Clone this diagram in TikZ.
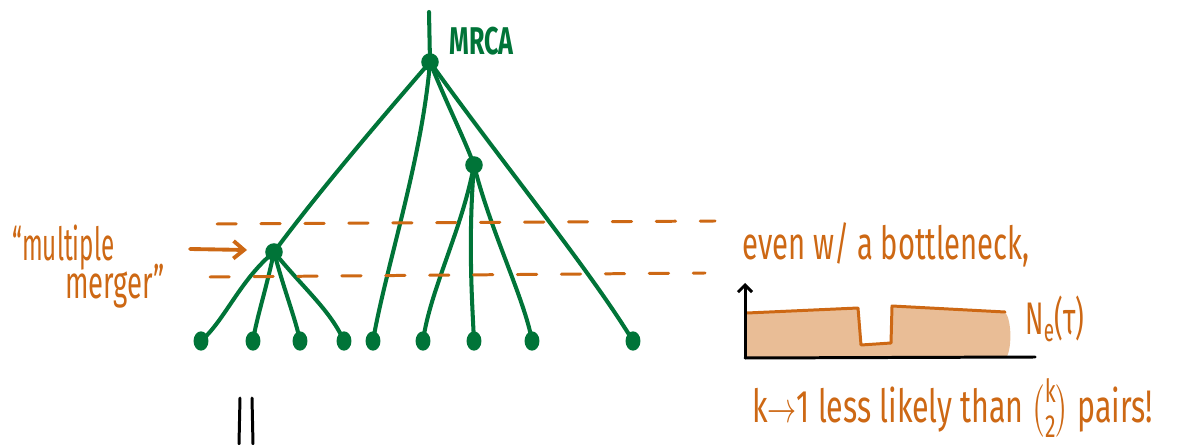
\documentclass[tikz,border=0pt]{standalone}
\usepackage{fontspec}
\usepackage{amsmath}
\setmainfont{Fira Sans}
\usetikzlibrary{arrows.meta,shapes.geometric}
\definecolor{treegreen}{RGB}{0,116,56}
\definecolor{ink}{RGB}{205,104,20}
\definecolor{sand}{RGB}{233,189,150}
\newcommand{\hw}[2]{\scalebox{#1}[1]{#2}}
\tikzset{
  branch/.style={draw=treegreen, line width=2.3pt, line cap=round, line join=round},
  leaf/.style={ellipse, fill=treegreen, minimum width=8.5pt, minimum height=11pt, inner sep=0pt},
  inner/.style={circle, fill=treegreen, minimum size=10pt, inner sep=0pt},
  level/.style={draw=ink, line width=1.7pt, dash pattern=on 11pt off 14pt, line cap=round},
  note/.style={text=ink, inner sep=0pt, font=\fontsize{26}{26}\selectfont},
  axis/.style={draw=black, line width=1.7pt, line cap=round}
}
\begin{document}
\begin{tikzpicture}[x=0.02cm, y=-0.02cm]
\useasboundingbox (0,0) rectangle (1189,445);

% tree nodes
\coordinate (top) at (429,12);
\node[inner] (root) at (430,62) {};
\node[inner] (B) at (474,165) {};
\node[inner] (A) at (274,252) {};
\foreach \n/\x in {l1/201,l2/253,l3/300,l4/344,l5/373,l6/423,l7/474,l8/532,l9/633}
  \node[leaf] (\n) at (\x,341) {};

\node[text=treegreen, inner sep=0pt, anchor=base west, font=\bfseries\fontsize{22}{22}\selectfont] (mrca) at (449,55) {\hw{0.65}{MRCA}};

% branches
\draw[branch] (top) -- (root.center);
\draw[branch] (root.center) .. controls (380,120) and (320,190) .. (A.center);
\draw[branch] (root.center) .. controls (422,160) and (385,270) .. (l5.center);
\draw[branch] (root.center) .. controls (445,100) and (465,140) .. (B.center);
\draw[branch] (root.center) .. controls (500,160) and (590,270) .. (l9.center);
\draw[branch] (B.center) .. controls (462,230) and (430,290) .. (l6.center);
\draw[branch] (B.center) .. controls (468,240) and (472,300) .. (l7.center);
\draw[branch] (B.center) .. controls (490,230) and (525,300) .. (l8.center);
\draw[branch] (A.center) .. controls (240,280) and (225,320) .. (l1.center);
\draw[branch] (A.center) .. controls (266,290) and (256,320) .. (l2.center);
\draw[branch] (A.center) .. controls (284,290) and (296,320) .. (l3.center);
\draw[branch] (A.center) .. controls (305,290) and (330,310) .. (l4.center);

% time window of the merger
\coordinate (u0) at (217,224); \coordinate (u1) at (715,221);
\coordinate (d0) at (210,277); \coordinate (d1) at (705,273);
\draw[level] (u0) -- (u1);
\draw[level] (d0) -- (d1);

% label and arrow
\node[note, anchor=base west] (mult) at (12,261) {\hw{0.53}{“multiple}};
\node[note, anchor=base west] (merg) at (65,299) {\hw{0.6}{merger”}};
\coordinate (arr0) at (190,249);
\coordinate (arr1) at (247,250);
\draw[ink, line width=2.2pt, line cap=round, -{Straight Barb[length=6pt,width=10pt]}] (arr0) -- (arr1);

% population size plot
\node[note, anchor=base west] (even) at (742,260) {\hw{0.64}{even w/ a bottleneck,}};
\fill[sand] (747,313) -- (858,308) -- (861,345) -- (891,343) -- (892,306) -- (1005,312)
  .. controls (1012,320) and (1012,350) .. (1006,358) -- (747,358) -- cycle;
\draw[ink, line width=1.7pt, line cap=round, line join=round]
  (747,313) -- (858,308) -- (861,345) -- (891,343) -- (892,306) -- (1005,312);
\coordinate (o) at (745,358); \coordinate (yt) at (745,283); \coordinate (xt) at (1035,357);
\draw[axis, -{Straight Barb[length=4pt,width=8pt]}] (o) -- (yt);
\draw[axis] (o) -- (xt);
\node[note, anchor=base west] (ne) at (1025,335) {\hw{0.59}{N\textsubscript{e}(τ)}};

\node[note, anchor=base west] (kto) at (752,422) {\hw{0.665}{k$\rightarrow$1 less likely than $\binom{\text{k}}{\text{2}}$ pairs!}};

% equals sign turned on its side
\coordinate (e1a) at (240,398); \coordinate (e1b) at (239,444);
\coordinate (e2a) at (252,398); \coordinate (e2b) at (253,444);
\draw[axis] (e1a) -- (e1b);
\draw[axis] (e2a) -- (e2b);
\end{tikzpicture}
\end{document}
